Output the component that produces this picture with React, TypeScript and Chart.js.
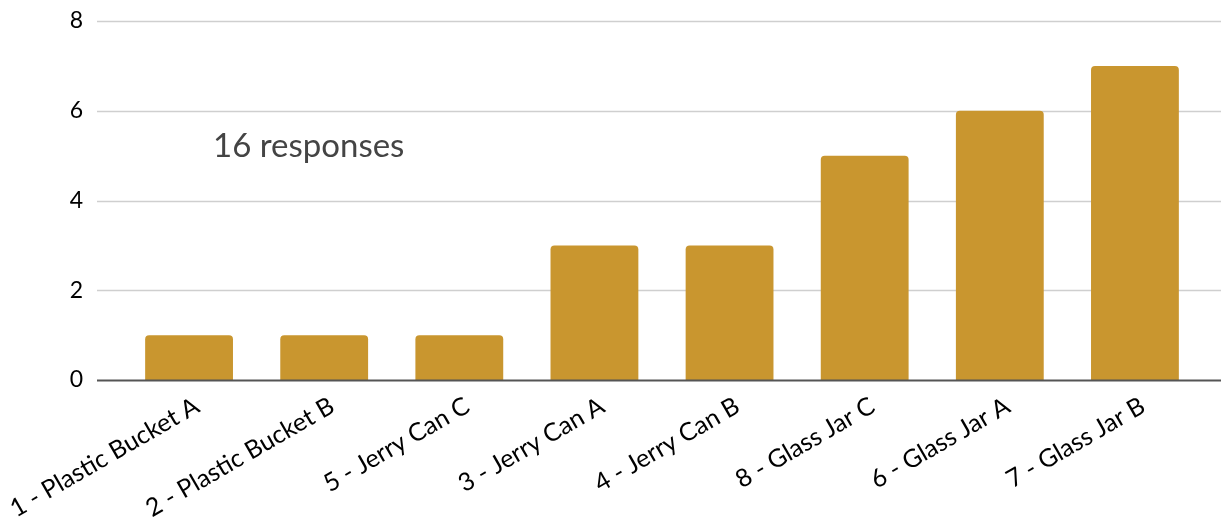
import React, { useEffect, useRef } from "react";
import { Chart, registerables } from "chart.js";

Chart.register(...registerables);

const categories = [
  "1 - Plastic Bucket A",
  "2 - Plastic Bucket B",
  "5 - Jerry Can C",
  "3 - Jerry Can A",
  "4 - Jerry Can B",
  "8 - Glass Jar C",
  "6 - Glass Jar A",
  "7 - Glass Jar B",
];
const responses = [1, 1, 1, 3, 3, 5, 6, 7];
const yTicks = [0, 2, 4, 6, 8];
const caption = "16 responses";

const FONT = "Lato, 'Noto Sans', sans-serif";
const BAR_COLOR = "#C9962F";

// Horizontal guide lines that run past the plot area to the canvas edge,
// plus the darker zero baseline and the response-count caption.
const guides = {
  id: "guides",
  beforeDatasetsDraw(chart: any) {
    const { ctx, scales, width } = chart;
    const y = scales.y;
    const left = 97;
    ctx.save();
    ctx.strokeStyle = "#cfcfcf";
    ctx.lineWidth = 1.5;
    yTicks.forEach((v) => {
      if (v === 0) return;
      const py = Math.round(y.getPixelForValue(v)) + 0.5;
      ctx.beginPath();
      ctx.moveTo(left, py);
      ctx.lineTo(width, py);
      ctx.stroke();
    });
    ctx.restore();
  },
  afterDatasetsDraw(chart: any) {
    const { ctx, scales, width, chartArea } = chart;
    const y = scales.y;
    ctx.save();
    ctx.strokeStyle = "#555555";
    ctx.lineWidth = 2;
    const py = Math.round(y.getPixelForValue(0)) + 0.5;
    ctx.beginPath();
    ctx.moveTo(97, py);
    ctx.lineTo(width, py);
    ctx.stroke();

    ctx.fillStyle = "#444444";
    ctx.font = `33px ${FONT}`;
    ctx.textAlign = "left";
    ctx.textBaseline = "alphabetic";
    ctx.fillText(caption, chartArea.left + 91.5, 157);
    ctx.restore();
  },
};

export default function App() {
  const canvasRef = useRef<HTMLCanvasElement | null>(null);

  useEffect(() => {
    document.body.style.margin = "0";
    const canvas = canvasRef.current;
    if (!canvas) return;
    const chart = new Chart(canvas, {
      type: "bar",
      data: {
        labels: categories,
        datasets: [
          {
            data: responses,
            backgroundColor: BAR_COLOR,
            borderWidth: 0,
            borderRadius: { topLeft: 4, topRight: 4, bottomLeft: 0, bottomRight: 0 },
            borderSkipped: false,
            categoryPercentage: 0.65,
            barPercentage: 1,
          },
        ],
      },
      options: {
        animation: false,
        responsive: false,
        maintainAspectRatio: false,
        layout: { padding: { left: 0, right: 18.5, top: 21, bottom: 0 } },
        plugins: {
          legend: { display: false },
          tooltip: { enabled: false },
          title: { display: false },
        },
        scales: {
          x: {
            grid: { display: false, drawTicks: false },
            border: { display: false },
            ticks: {
              color: "#000000",
              font: { family: FONT, size: 25 },
              minRotation: 30,
              maxRotation: 30,
              autoSkip: false,
              padding: 11,
              labelOffset: 8,
            },
            afterFit(scale: any) {
              scale.height = 146;
              scale.paddingLeft = 0;
              scale.paddingRight = 0;
            },
          },
          y: {
            min: 0,
            max: 8,
            afterBuildTicks(scale: any) {
              scale.ticks = yTicks.map((v) => ({ value: v }));
            },
            grid: { display: false, drawTicks: false },
            border: { display: false },
            ticks: {
              color: "#000000",
              font: { family: FONT, size: 23 },
              padding: 38.5,
            },
            afterFit(scale: any) {
              scale.width = 121.5;
              scale.paddingTop = 0;
              scale.paddingBottom = 0;
            },
          },
        },
      },
      plugins: [guides],
    });
    return () => chart.destroy();
  }, []);

  return (
    <div style={{ position: "fixed", left: 0, top: 0, width: 1221, height: 526, background: "#fff" }}>
      <canvas ref={canvasRef} width={1221} height={526} style={{ width: 1221, height: 526, display: "block" }} />
    </div>
  );
}
